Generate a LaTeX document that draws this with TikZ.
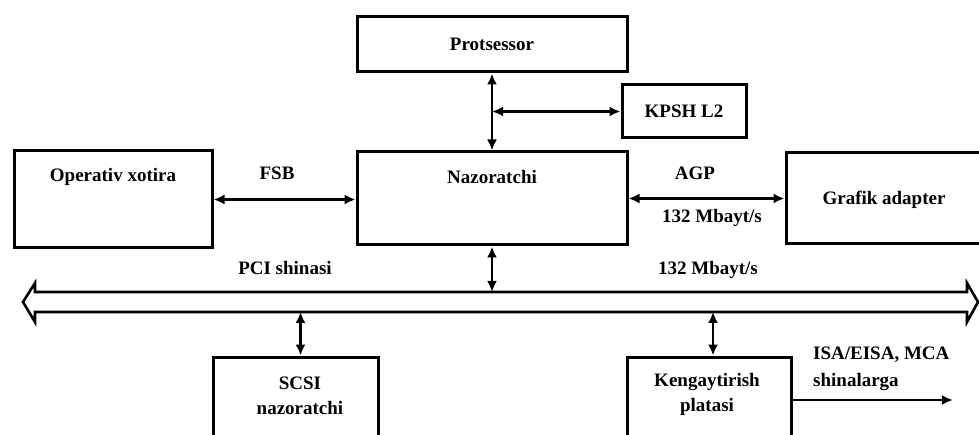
\documentclass[tikz,border=0pt]{standalone}
\usepackage{fontspec}
\setmainfont{Liberation Serif}
\usetikzlibrary{arrows.meta}
\begin{document}
\begin{tikzpicture}[x=1pt,y=-1pt,
  box/.style={draw, line width=3pt, inner sep=0pt},
  txt/.style={font=\bfseries\fontsize{19}{22}\selectfont, inner sep=0pt},
  tip/.style={Latex[length=11pt,width=10pt]},
  link/.style={line width=2.4pt, {Latex[length=11pt,width=10pt]}-{Latex[length=11pt,width=10pt]}},
  oneway/.style={line width=2.2pt, -{Latex[length=11pt,width=10pt]}},
  bus/.style={line width=2.6pt, line join=miter}]
\useasboundingbox (0,0) rectangle (979,435);
\clip (0,0) rectangle (979,435);

% blocks
\node[box, minimum width=270pt, minimum height=55pt] (pr) at (492,44.5) {};
\node[box, minimum width=124pt, minimum height=53pt] (kp) at (684,111.5) {};
\node[box, minimum width=198pt, minimum height=97pt] (ox) at (113,199.5) {};
\node[box, minimum width=270pt, minimum height=93pt] (nz) at (492,198.5) {};
\node[box, minimum width=264pt, minimum height=91pt] (ga) at (918,198.5) {};
\node[box, minimum width=165pt, minimum height=113pt] (scsi) at (295.5,413.5) {};
\node[box, minimum width=164pt, minimum height=113pt] (kn) at (709,413.5) {};

% block captions
\node[txt] (prT) at (pr) {Protsessor};
\node[txt] (kpT) at (kp) {KPSH L2};
\node[txt] (oxT) at (113,177) {Operativ xotira};
\node[txt] (nzT) at (492,177) {Nazoratchi};
\node[txt] (gaT) at (884,200) {Grafik adapter};
\node[txt] (scT) at (300,383) {SCSI};
\node[txt] (scT2) at (300,408) {nazoratchi};
\node[txt] (knT) at (707,382) {Kengaytirish};
\node[txt] (knT2) at (707,407) {platasi};

% link labels
\node[txt] (fsb) at (277,173) {FSB};
\node[txt] (agp) at (695,173) {AGP};
\node[txt] (agpR) at (712,218) {132 Mbayt/s};
\node[txt] (pciL) at (285,268) {PCI shinasi};
\node[txt] (pciR) at (708,270) {132 Mbayt/s};
\node[txt, anchor=west] (isa) at (813,355) {ISA/EISA, MCA};
\node[txt, anchor=west] (isa2) at (813,382) {shinalarga};

% PCI bus as a wide double-headed arrow
\draw[bus] (23,302) -- (35,283) -- (35,292) -- (967,292) -- (967,283) -- (978,302)
  -- (967,322) -- (967,312) -- (35,312) -- (35,322) -- cycle;
\coordinate (busTop) at (0,292);
\coordinate (busBot) at (0,312);
\coordinate (isaEnd) at (953,400);

% connectors
\draw[link] (pr.south) -- (nz.north);
\draw[link] (pr.south |- kp.west) -- (kp.west);
\draw[link] (ox.east) -- (ox.east -| nz.west);
\draw[link] (nz.east) -- (nz.east -| ga.west);
\draw[link] (nz.south) -- (nz.south |- busTop);
\draw[link] ([xshift=5pt]scsi.north |- busBot) -- ([xshift=5pt]scsi.north);
\draw[link] ([xshift=4pt]kn.north |- busBot) -- ([xshift=4pt]kn.north);
\draw[oneway] (kn.east |- isaEnd) -- (isaEnd);
\end{tikzpicture}
\end{document}
